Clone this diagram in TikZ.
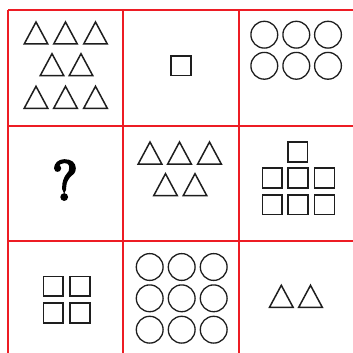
\documentclass[tikz,border=0pt]{standalone}
\usepackage{fontspec}
\newfontfamily\qfont[FakeBold=5.5]{Latin Modern Roman}
\tikzset{
  gridline/.style={draw={rgb,255:red,237;green,28;blue,36}, line width=2.2pt},
  shp/.style={draw={rgb,255:red,30;green,30;blue,30}, line width=1.5pt},
  circ/.style={draw={rgb,255:red,30;green,30;blue,30}, line width=1.3pt},
}
\newcommand{\tri}[2]{\draw[shp] (#1-11.8,#2) -- (#1,#2-22) -- (#1+11.8,#2) -- cycle;}
\newcommand{\sqr}[2]{\draw[shp] (#1-9.8,#2-9.8) rectangle (#1+9.8,#2+9.8);}
\newcommand{\crc}[2]{\draw[circ] (#1,#2) circle (13.4);}
\begin{document}
\begin{tikzpicture}[x=1pt,y=-1pt]
\useasboundingbox (0,0) rectangle (353,353);
\fill[white] (0,0) rectangle (353,353);
% grid
\draw[gridline] (8,10) -- (353,10);
\draw[gridline] (8,126) -- (353,126);
\draw[gridline] (8,241) -- (353,241);
\draw[gridline] (8,10) -- (8,353);
\draw[gridline] (123,10) -- (123,353);
\draw[gridline] (239,10) -- (239,353);
% cell (0,0): 8 triangles
\foreach \x in {36,65.5,95.5} {\tri{\x}{44}}
\foreach \x in {52,81} {\tri{\x}{75.7}}
\foreach \x in {36,65.5,95.5} {\tri{\x}{108.3}}
% cell (1,0): one square
\sqr{181}{65.7}
% cell (2,0): 6 circles
\foreach \x in {264.3,296.3,328} {\crc{\x}{34.7}\crc{\x}{65.8}}
% cell (0,1): question mark
\node[inner sep=0pt] (q) at (65,180) {\qfont\fontsize{55}{55}\selectfont ?};
% cell (1,1): 5 triangles
\foreach \x in {150,179.5,209.5} {\tri{\x}{164}}
\foreach \x in {165.5,195} {\tri{\x}{195.7}}
% cell (2,1): 7 squares
\sqr{297.7}{152}
\foreach \x in {272.3,298,324.5} {\sqr{\x}{178}\sqr{\x}{204.7}}
% cell (0,2): 4 squares
\foreach \x in {53.3,80} {\sqr{\x}{286.3}\sqr{\x}{313}}
% cell (1,2): 9 circles
\foreach \x in {149.7,181.7,213.7} {\crc{\x}{267}\crc{\x}{298.3}\crc{\x}{329.7}}
% cell (2,2): 2 triangles
\foreach \x in {281.3,310.5} {\tri{\x}{307.3}}
\end{tikzpicture}
\end{document}
